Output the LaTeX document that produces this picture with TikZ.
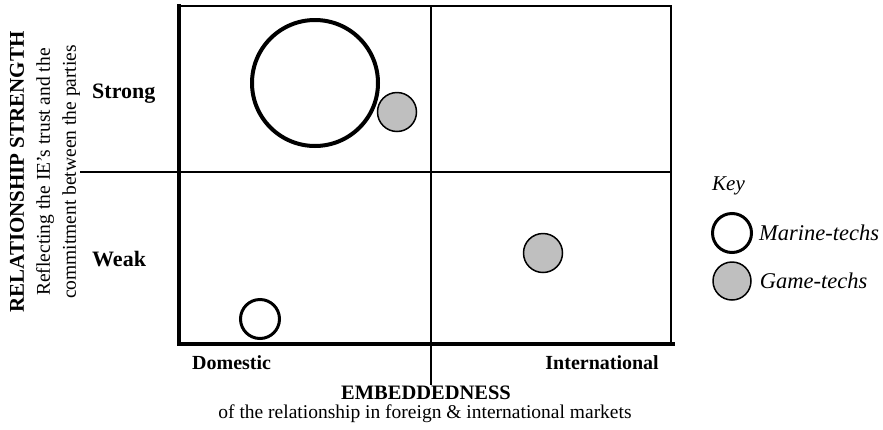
\documentclass[tikz,border=0pt]{standalone}
\usepackage{fontspec}
\setmainfont{Liberation Serif}
\usepackage{tikz}
\usetikzlibrary{positioning}
\tikzstyle{marine} = [
    circle,
    draw=black,
    fill=white,
    inner sep=0pt
]
\tikzstyle{game} = [
    circle,
    draw=black,
    line width=1.5pt,
    fill=black!25,
    inner sep=0pt
]
\tikzstyle{lab} = [font=\fontsize{20}{24}\selectfont\bfseries, inner sep=0pt]
\tikzstyle{txt} = [font=\fontsize{19.5}{24}\selectfont, inner sep=0pt]
\tikzstyle{keytxt} = [font=\fontsize{22.5}{24}\selectfont\itshape, inner sep=0pt]

\begin{document}
\begin{tikzpicture}[x=1pt, y=-1pt, node distance=6pt]
    \useasboundingbox (0,0) rectangle (883,429);
    % grid
    \coordinate (tl) at (179,6);
    \coordinate (tr) at (671,6);
    \coordinate (bl) at (179,344);
    \coordinate (br) at (675,344);
    \draw [line width=2pt] (tl) -- (tr) -- (671,344);
    \draw [line width=1.2pt] (80,172) -- (671,172);
    \draw [line width=1.8pt] (431,6) -- (431,385);
    \draw [line width=4pt] (179,4) -- (bl);
    \draw [line width=4pt] (177,344) -- (br);
    % circles
    \node (mbig) [marine, line width=4pt, minimum size=126pt] at (315,83) {};
    \node (mdom) [marine, line width=3pt, minimum size=39pt] at (260,319) {};
    \node (gstrong) [game, minimum size=39pt] at (397,112) {};
    \node (gint) [game, minimum size=39pt] at (543,253) {};
    % axis labels
    \node (strong) [lab, anchor=base west, font=\fontsize{22}{24}\selectfont\bfseries] at (92,98) {Strong};
    \node (weak) [lab, anchor=base west, font=\fontsize{22}{24}\selectfont\bfseries] at (92,266) {Weak};
    \node (dom) [lab, anchor=base west] at (192,369) {Domestic};
    \node (intl) [lab, anchor=base east] at (659,369) {International};
    \node (embed) [lab, anchor=base, font=\fontsize{20.5}{24}\selectfont\bfseries] at (426,399) {EMBEDDEDNESS};
    \node (embedsub) [txt, anchor=base] at (425,418) {of the relationship in foreign \& international markets};
    \node (rel) [txt, rotate=90, align=center, font=\fontsize{19.5}{26}\selectfont] at (45,172)
        {{\fontsize{21}{26}\selectfont\bfseries RELATIONSHIP STRENGTH}\\Reflecting the IE’s trust and the\\commitment between the parties};
    % key
    \node (key) [keytxt, anchor=base west, font=\fontsize{21}{24}\selectfont\itshape] at (712,190) {Key};
    \node (keymarine) [marine, line width=3pt, minimum size=39pt] at (732,233) {};
    \node (keygame) [game, minimum size=38pt] at (732,281) {};
    \node (keymarinetxt) [keytxt, right=6pt of keymarine] {Marine-techs};
    \node (keygametxt) [keytxt, right=8pt of keygame] {Game-techs};
\end{tikzpicture}
\end{document}
